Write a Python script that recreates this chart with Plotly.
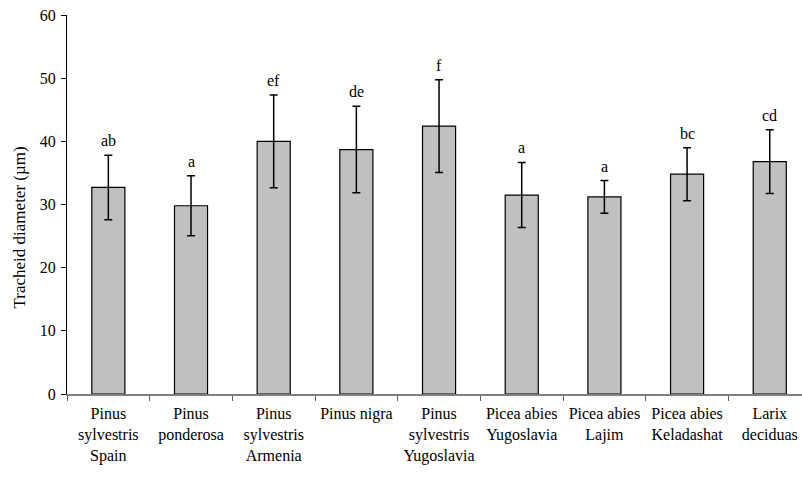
import plotly.graph_objects as go

categories = [
    "Pinus<br>sylvestris<br>Spain",
    "Pinus<br>ponderosa",
    "Pinus<br>sylvestris<br>Armenia",
    "Pinus nigra",
    "Pinus<br>sylvestris<br>Yugoslavia",
    "Picea abies<br>Yugoslavia",
    "Picea abies<br>Lajim",
    "Picea abies<br>Keladashat",
    "Larix<br>deciduas",
]
means = [32.7, 29.8, 40.0, 38.7, 42.4, 31.5, 31.2, 34.8, 36.8]
errors = [5.1, 4.75, 7.35, 6.85, 7.35, 5.15, 2.6, 4.2, 5.05]
letters = ["ab", "a", "ef", "de", "f", "a", "a", "bc", "cd"]
y_ticks = [0, 10, 20, 30, 40, 50, 60]
y_title = "Tracheid diameter (µm)"

FONT = "Liberation Serif, Times New Roman, serif"

fig = go.Figure()
fig.add_trace(go.Bar(
    x=categories,
    y=means,
    width=0.4,
    marker=dict(color="#C0C0C0", line=dict(color="black", width=1.2)),
    error_y=dict(type="data", array=errors, visible=True,
                 color="black", thickness=1.5, width=4),
    showlegend=False,
))

for c, m, e, l in zip(categories, means, errors, letters):
    fig.add_annotation(x=c, y=m + e, text=l, showarrow=False,
                       yanchor="bottom", yshift=4,
                       font=dict(family=FONT, size=16, color="black"))

# y-axis title (positioned like the reference, slightly below plot centre)
fig.add_annotation(xref="paper", yref="paper", x=-0.065, y=0.44,
                   text=y_title, textangle=-90, showarrow=False,
                   xanchor="center", yanchor="middle",
                   font=dict(family=FONT, size=17, color="black"))

fig.update_layout(
    width=802, height=478,
    margin=dict(l=67, r=0, t=15, b=84),
    plot_bgcolor="white", paper_bgcolor="white",
    font=dict(family=FONT, size=16, color="black"),
    bargap=0.6,
)
fig.update_xaxes(
    type="category",
    range=[-0.5, 8.39],
    showline=True, linecolor="#808080", linewidth=1.5,
    ticks="outside", tickson="boundaries", ticklen=5, tickcolor="#606060",
    showgrid=False, zeroline=False,
    ticklabelstandoff=4,
    tickfont=dict(family=FONT, size=16, color="black"),
)
fig.update_yaxes(
    range=[0, 60], tickvals=y_ticks,
    showline=True, linecolor="black", linewidth=1,
    ticks="outside", ticklen=5, tickcolor="black",
    showgrid=False, zeroline=False,
    ticklabelstandoff=2,
    tickfont=dict(family=FONT, size=16, color="black"),
)

fig.write_html("out.html")
